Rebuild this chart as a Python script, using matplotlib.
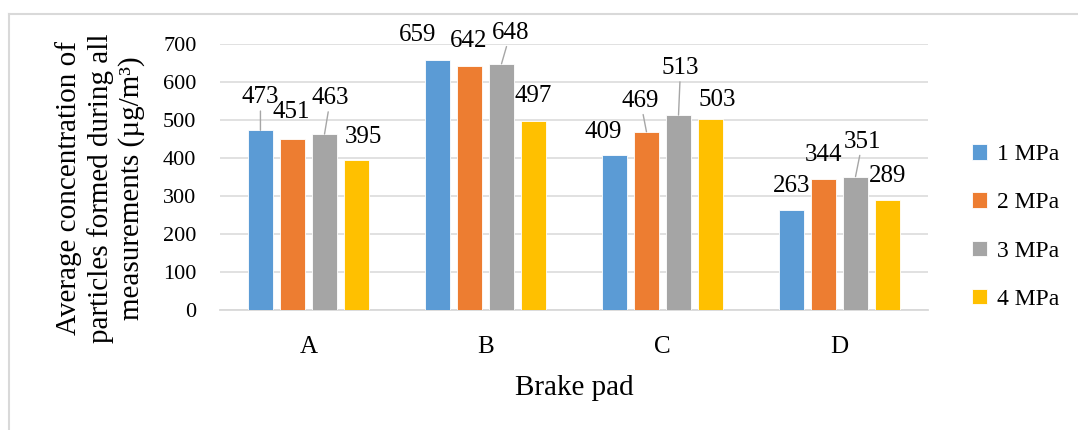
import matplotlib
matplotlib.use('Agg')
import matplotlib.pyplot as plt
from matplotlib.lines import Line2D
import numpy as np

# Data
pads = ['A', 'B', 'C', 'D']
pressures = ['1 MPa', '2 MPa', '3 MPa', '4 MPa']
mpa1 = [473, 659, 409, 263]
mpa2 = [451, 642, 469, 344]
mpa3 = [463, 648, 513, 351]
mpa4 = [395, 497, 503, 289]
series = [mpa1, mpa2, mpa3, mpa4]

colors = ['#5b9bd5', '#ed7d31', '#a5a5a5', '#ffc000']

# label offsets in pixels (dx, dy, leader line) per pad, per pressure
label_pos = [
    [(0, 33, True), (-1, 27, False), (6, 36, True), (7, 23, False)],
    [(-20, 25, False), (-1, 25, False), (9, 31, True), (0, 25, False)],
    [(-11, 23, False), (-6, 31, True), (2, 47, True), (7, 19, False)],
    [(0, 24, False), (0, 24, False), (7, 35, True), (0, 24, False)],
]

plt.rcParams['font.family'] = 'Liberation Serif'
W, H = 1078, 430
fig = plt.figure(figsize=(W / 100, H / 100), dpi=100)
ax = fig.add_axes([220 / W, 1 - 310 / H, (928 - 220) / W, (310 - 44) / H])

x = np.arange(len(pads))
pitch = 0.181
width = 0.142
for j, vals in enumerate(series):
    xs = x + (j - 1.5) * pitch
    ax.bar(xs, vals, width=width, color=colors[j], label=pressures[j],
           edgecolor='white', linewidth=0.6, zorder=3)
    for i, v in enumerate(vals):
        dx, dy, leader = label_pos[i][j]
        kw = {}
        if leader:
            kw['arrowprops'] = dict(arrowstyle='-', color='#a6a6a6', lw=1,
                                    shrinkA=0, shrinkB=0)
        ax.annotate(str(v), xy=(xs[i], v), xytext=(dx, dy),
                    textcoords='offset pixels', ha='center', va='center',
                    fontsize=18, color='#000000', zorder=5, **kw)

ax.set_xlim(-0.5, 3.5)
ax.set_ylim(0, 700)
ax.set_yticks(range(0, 701, 100))
ax.set_xticks(x)
ax.set_xticklabels(pads)
ax.tick_params(axis='y', length=0, pad=17, labelsize=16)
ax.tick_params(axis='x', length=0, pad=19, labelsize=18)
ax.grid(axis='y', color='#d9d9d9', linewidth=1.1, zorder=0)
for s in ['top', 'right', 'left']:
    ax.spines[s].set_visible(False)
ax.spines['bottom'].set_color('#d9d9d9')
ax.spines['bottom'].set_linewidth(1.3)

fig.text(100 / W, 1 - 188 / H,
         'Average concentration of\nparticles formed during all\nmeasurements (µg/m³)',
         rotation=90, ha='center', va='center', multialignment='center',
         fontsize=21, linespacing=1.2)
fig.text(574 / W, 1 - 388 / H, 'Brake pad', ha='center', va='center', fontsize=21)

ax.legend(loc='center left', bbox_to_anchor=(972 / W, 1 - 227 / H),
          bbox_transform=fig.transFigure, frameon=False, fontsize=17,
          handlelength=0.64, handleheight=0.64, handletextpad=0.4,
          labelspacing=1.15, borderpad=0, borderaxespad=0)

# chart area border
fig.add_artist(Line2D([9 / W, 9 / W], [0, 1 - 14 / H], color='#d9d9d9', lw=1.5))
fig.add_artist(Line2D([9 / W, 1], [1 - 14 / H, 1 - 14 / H], color='#d9d9d9', lw=1.5))

fig.savefig('out.png', dpi=100)
